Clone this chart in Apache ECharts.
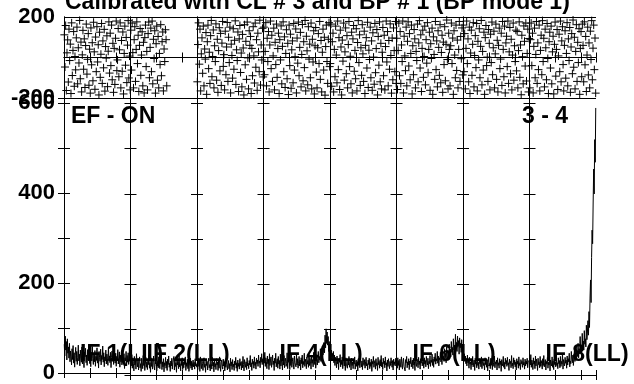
<!DOCTYPE html>
<html>
<head>
<meta charset="utf-8">
<script src="https://cdn.jsdelivr.net/npm/echarts@6/dist/echarts.min.js"></script>
<style>
html,body{margin:0;padding:0;background:#fff;}
#chart{width:634px;height:384px;}
</style>
</head>
<body>
<div id="chart"></div>
<script>
// ---- Data ----
const titleText = "Calibrated with CL # 3 and BP # 1 (BP mode 1)";
const segmentLabels = ["IF 1(LL)", "IF 2(LL)", "", "IF 4(LL)", "", "IF 6(LL)", "", "IF 8(LL)"];
const sourceLabel = "EF - ON";
const baselineLabel = "3 - 4";
const channelsPerSegment = 128;
const phaseTicks = [-200, 200];
const ampTicks = [0, 200, 400, 600];

// amplitude per segment (one value per channel)
const amp1 = [64,38,82,51,70,29,76,44,58,33,66,25,49,37,18,54,30,61,22,45,13,39,57,26,48,19,35,62,27,42,16,51,33,24,58,20,44,31,12,47,36,55,23,40,17,52,29,38,63,21,34,14,46,27,59,32,19,43,25,50,15,37,28,56,22,41,11,48,34,26,53,18,39,30,60,24,45,14,36,27,51,20,42,33,17,57,29,38,23,46,12,35,49,26,41,19,54,31,22,44,15,37,28,52,20,33,47,13,40,25,36,18,50,30,21,43,10,34,27,48,16,39,24,45,19,31,26,38];
const amp2 = [34,20,45,15,38,26,9,41,22,33,13,47,28,18,36,11,30,40,16,25,8,37,27,14,43,21,31,10,24,39,17,29,12,35,23,44,15,27,6,38,19,32,13,28,42,20,11,34,24,37,9,26,31,16,40,22,14,33,25,45,12,29,18,36,7,27,21,39,15,30,10,35,23,42,17,26,8,31,20,37,13,28,24,41,11,33,19,27,6,36,22,30,14,43,18,25,9,34,21,38,12,29,16,32,23,40,10,27,19,35,14,31,8,26,22,37,15,30,11,24,33,18,28,13,36,20,25,17];
const amp3 = [28,12,36,19,31,8,40,22,14,33,25,10,29,38,17,24,6,35,21,30,11,27,37,16,23,9,32,26,13,39,20,28,7,34,18,25,12,36,22,29,10,31,15,40,24,8,27,33,19,13,35,21,28,9,30,17,38,23,11,26,32,14,25,7,37,20,29,12,34,18,24,10,31,22,39,15,27,8,33,19,26,13,36,21,28,11,30,16,41,23,9,34,25,17,29,12,38,20,26,14,32,22,43,18,27,10,35,24,30,15,40,21,28,13,37,25,33,19,44,26,31,16,39,28,47,23,36,30];
const amp4 = [45,26,50,19,38,30,14,42,25,35,12,47,21,33,40,17,28,44,23,31,10,37,26,48,18,29,36,15,41,24,32,13,46,20,34,27,11,39,22,43,16,30,37,19,25,49,14,33,28,40,12,35,21,45,17,29,38,24,13,42,27,31,18,47,22,36,15,26,41,20,33,11,38,25,44,16,30,23,48,19,35,27,14,40,24,32,17,46,21,37,29,13,43,26,34,18,50,23,31,39,15,28,45,22,36,52,27,41,33,58,30,47,38,64,44,55,72,49,88,60,102,70,95,66,85,52,74,48];
const amp5 = [62,40,55,31,48,36,52,27,44,21,39,30,16,42,25,35,12,37,28,45,18,33,23,40,14,29,36,20,31,10,38,24,27,15,34,22,41,17,26,32,11,37,21,29,14,35,24,40,13,28,33,19,26,9,36,22,30,16,42,25,18,31,12,38,27,21,34,15,29,39,20,25,11,33,23,37,14,28,19,35,8,30,24,41,17,26,32,13,36,21,27,10,39,23,30,15,34,20,43,18,28,12,37,25,31,16,40,22,27,9,33,19,36,24,14,30,21,38,26,17,32,11,35,23,29,20,37,25];
const amp6 = [28,15,38,21,32,11,35,24,17,40,26,13,30,37,19,23,9,34,27,41,16,29,22,36,12,31,25,39,18,27,33,14,37,22,30,10,42,25,19,35,28,16,39,23,31,13,36,26,44,20,29,34,15,38,24,32,18,41,27,22,37,14,30,25,43,19,33,28,46,21,35,17,40,30,48,24,36,31,52,26,42,20,38,33,50,29,45,23,55,35,41,30,58,38,48,27,62,42,36,53,33,68,45,57,40,74,50,61,44,80,55,66,48,90,58,72,52,86,63,76,46,82,60,70,50,78,55,65];
const amp7 = [52,38,47,30,42,25,36,20,44,27,33,15,39,24,29,12,35,22,41,18,27,33,10,37,24,30,16,43,21,28,13,36,25,32,18,40,14,29,35,21,26,11,38,23,31,17,34,9,28,40,20,25,14,37,22,30,12,35,27,19,42,16,29,24,33,11,38,21,27,15,36,23,31,8,34,26,20,41,17,28,13,37,24,32,19,39,22,27,10,35,25,30,16,43,20,26,14,38,23,33,18,29,11,36,24,31,15,40,21,27,12,34,25,30,17,38,22,28,13,35,20,31,24,37,16,29,26,33];
const amp8 = [40,22,45,17,33,28,12,38,24,31,14,42,20,35,26,10,37,23,29,16,41,19,32,25,13,36,21,43,18,27,34,11,30,24,39,15,28,22,37,9,33,26,20,40,17,31,12,35,23,29,18,44,21,27,14,38,25,32,16,41,19,30,24,47,13,34,28,20,39,26,33,15,42,22,36,29,48,18,31,25,52,35,27,44,21,38,56,30,45,62,34,50,41,70,38,58,47,85,52,66,44,92,60,75,55,98,68,80,62,110,78,95,120,88,140,105,170,210,160,260,320,290,380,455,400,520,470,590];

// phase per segment (segment 2 only partially valid)
const ph1 = [112,-47,158,-163,23,87,-121,140,-15,66,-178,171,-89,35,128,-142,5,-61,97,150,-130,48,-27,183,-105,76,-170,13,134,-58,92,-148,59,165,-82,-9,118,-137,41,-176,146,-36,73,-115,174,28,-157,101,-70,152,-22,63,-185,125,-98,16,168,-128,82,-51,139,-166,54,-3,107,-144,31,176,-77,120,-40,160,-110,70,-172,45,-133,95,180,-65,-12,143,-95,38,171,-150,84,-68,126,-180,20,155,-38,99,-124,61,182,-101,7,-160];
const ph2 = [135,-62,170,24,-150,88,152,-118,40,176,-30,110,-168,60,143,-88,12,127,-140,75,-175,98,160,-45,30,-160,118,175,-100,50,145,-70,180,-130,90,-5,132,-176,68,155,-112,104,-150,20,-35,162,-90,78,126,-165,42,-20,137,88,-140];
const ph3 = [-120,64,171,-33,140,-165,18,97,-78,155,-140,42,-8,123,-182,78,160,-55,26,-128,108,183,-95,5,136,-150,58,-20,166,-112,90,-172,34,147,-66,119,-138,71,178,-44,14,-160,130,-85,52,173,-118,100,-25,150,-175,66,10,-102,142,-58,85,181,-133,38,-15,126,-168,92,158,-74,22,-145,114,47,-185,162,-36,80,-108,175,-2,-155,132,60,104,-178,45,-90,152,8,-126,170,-48,88,-162,120,28,-70,184,-136,62,-12,144,-96];
const ph4 = [150,-85,30,172,-140,95,-20,128,-170,62,180,-55,110,-118,8,145,-160,75,-35,165,-98,44,120,-178,88,-12,156,-130,55,176,-70,102,-148,20,137,-105,70,-183,160,-40,115,-152,38,82,-125,168,-62,4,141,-175,96,-28,175,-90,50,124,-145,15,163,-115,78,-50,183,-165,105,33,-135,152,-8,66,-100,170,-155,90,-22,132,-180,58,148,-72,-150,48,118,-30,178,-108,84,-170,26,140,-62,100,-186,54,160,-20,-128,90,172,-45];
const ph5 = [-30,165,-142,78,120,-170,40,-95,155,12,-125,180,-60,98,-158,135,52,-185,86,-18,170,-112,28,146,-80,108,-150,64,178,-45,6,-130,125,-175,92,158,-68,35,-105,142,-165,74,182,-25,112,-138,48,-88,162,18,-118,130,-178,60,98,-52,174,-148,36,-10,150,-100,82,-162,122,2,-132,168,-75,44,138,-185,104,-38,176,-120,70,-155,26,148,-90,110,-160,54,180,-22,128,-140,84,-58,166,10,-176,96,-110,146,34,-70,178,-128];
const ph6 = [95,-158,35,170,-90,128,-128,62,-20,180,-175,105,8,-65,150,-140,80,176,-42,118,-110,20,160,-180,58,-85,138,92,-150,30,-15,165,-120,72,182,-52,112,-168,45,135,-98,5,155,-135,88,-28,172,-75,40,125,-162,68,-5,145,-182,102,15,-108,178,-60,82,-145,132,50,-88,162,-125,25,110,-172,76,-35,152,-115,65,185,-10,-155,120,40,-140,58,170,-30,96,-182,132,12,-100,160,-64,86,-150,40,178,-118,104,-6,146,-86];
const ph7 = [160,-70,118,-155,45,180,-30,92,-120,150,-178,22,135,-88,65,172,-145,10,108,-50,168,-165,80,-12,142,-100,55,183,-135,30,-62,125,-182,98,158,-40,2,-118,138,70,-160,115,-25,175,-85,48,130,-150,18,165,-108,85,-170,60,145,-55,-8,120,-138,178,40,-95,155,-175,72,105,-45,180,-128,28,148,-80,90,-160,12,170,-112,58,-20,135,-66,128,-150,34,176,-98,62,-184,110,4,-130,156,80,-42,170,-116,20,140,-170,94];
const ph8 = [-150,88,170,-40,120,-175,55,145,-100,15,178,-128,72,-60,160,-165,35,110,-85,182,-20,95,-145,140,48,-110,168,-5,-178,78,125,-52,155,-130,28,105,-180,65,175,-92,40,138,-158,8,115,-70,180,-120,82,152,-35,-165,60,132,-102,20,172,-140,92,-15,148,-172,52,118,-80,185,-48,100,-155,30,162,-118,75,-25,142,-182,45,128,-95,165,60,-120,176,-36,104,-168,12,150,-86,72,-150,130,-10,182,-110,46,160,-60,96,-176];

const ampSegments = [amp1, amp2, amp3, amp4, amp5, amp6, amp7, amp8];
const phaseSegments = [ph1, ph2, ph3, ph4, ph5, ph6, ph7, ph8];
const phaseSamplesPerSegment = 100;

// ---- Chart ----
const FONT = "'Liberation Sans', Arial, sans-serif";
const plotLeft = 64, plotRight = 596;
const segW = (plotRight - plotLeft) / 8;
const topPanel = {top: 17, height: 81};
const botPanel = {top: 98, height: 277};
const axisLine = {show: true, lineStyle: {color: '#000', width: 1}};
const tickStyle = {color: '#000', width: 1};

const grid = [], xAxis = [], yAxis = [], series = [];
const labelStyle = {color: '#000', fontFamily: FONT, fontWeight: 'bold', fontSize: 22, margin: 9};

for (let i = 0; i < 8; i++) {
  const left = plotLeft + i * segW;
  const gT = grid.length;
  grid.push({left: left, top: topPanel.top, width: segW, height: topPanel.height});
  const gB = grid.length;
  grid.push({left: left, top: botPanel.top, width: segW, height: botPanel.height});

  function xPair(g) {
    const idx = xAxis.length;
    ['bottom', 'top'].forEach(pos => xAxis.push({
      type: 'value', gridIndex: g, position: pos, min: 0, max: channelsPerSegment, interval: 50,
      axisLine: axisLine, axisTick: {show: true, inside: true, length: 5, lineStyle: tickStyle},
      axisLabel: {show: false}, splitLine: {show: false}
    }));
    return idx;
  }
  const xT = xPair(gT);
  const xB = xPair(gB);

  const yT = yAxis.length;
  yAxis.push({
    type: 'value', gridIndex: gT, position: 'left', min: -200, max: 200, interval: 200,
    axisLine: axisLine, axisTick: {show: false},
    axisLabel: Object.assign({show: i === 0, formatter: v => phaseTicks.indexOf(v) >= 0 ? String(v) : ''}, labelStyle),
    splitLine: {show: true, lineStyle: {color: '#000', width: 1}}
  });
  yAxis.push({
    type: 'value', gridIndex: gT, position: 'right', min: -200, max: 200, interval: 200,
    axisLine: axisLine, axisTick: {show: false}, axisLabel: {show: false}, splitLine: {show: false}
  });
  const yB = yAxis.length;
  yAxis.push({
    type: 'value', gridIndex: gB, position: 'left', min: 0, max: 612, interval: 100,
    axisLine: axisLine, axisTick: {show: true, inside: true, length: 6, lineStyle: tickStyle},
    axisLabel: Object.assign({show: i === 0, formatter: v => ampTicks.indexOf(v) >= 0 ? String(v) : ''}, labelStyle),
    splitLine: {show: false}
  });
  yAxis.push({
    type: 'value', gridIndex: gB, position: 'right', min: 0, max: 612, interval: 100,
    axisLine: axisLine, axisTick: {show: true, inside: true, length: 6, lineStyle: tickStyle},
    axisLabel: {show: false}, splitLine: {show: false}
  });

  const ph = phaseSegments[i];
  const pStep = channelsPerSegment / phaseSamplesPerSegment;
  series.push({
    type: 'scatter', xAxisIndex: xT, yAxisIndex: yT,
    data: ph.map((v, k) => [k * pStep + pStep / 2, v]),
    symbol: 'path://M4,0L4,8M0,4L8,4', symbolSize: 8,
    itemStyle: {color: 'transparent', borderColor: '#000', borderWidth: 1, opacity: 1},
    silent: true, clip: false
  });
  const amp = ampSegments[i];
  const aStep = channelsPerSegment / amp.length;
  series.push({
    type: 'line', xAxisIndex: xB, yAxisIndex: yB,
    data: amp.map((v, k) => [k * aStep + aStep / 2, v]),
    showSymbol: false, symbol: 'none',
    lineStyle: {color: '#000', width: 1}, silent: true
  });
}

const textEl = (t, x, y) => ({
  type: 'text', x: x, y: y, silent: true, z: 100,
  style: {text: t, x: 0, y: 0, fill: '#000', font: 'bold 23px ' + FONT, textAlign: 'left', textVerticalAlign: 'middle'}
});

const graphic = [textEl(titleText, 65, 3)];
graphic.push(textEl(sourceLabel, 71, 117));
graphic.push(textEl(baselineLabel, 522, 117));
segmentLabels.forEach((t, i) => {
  if (t) graphic.push(textEl(t, plotLeft + i * segW + 16, 355));
});

const chart = echarts.init(document.getElementById('chart'), null, {renderer: 'canvas'});
chart.setOption({
  animation: false,
  backgroundColor: '#fff',
  grid: grid, xAxis: xAxis, yAxis: yAxis, series: series,
  graphic: graphic
});
</script>
</body>
</html>
